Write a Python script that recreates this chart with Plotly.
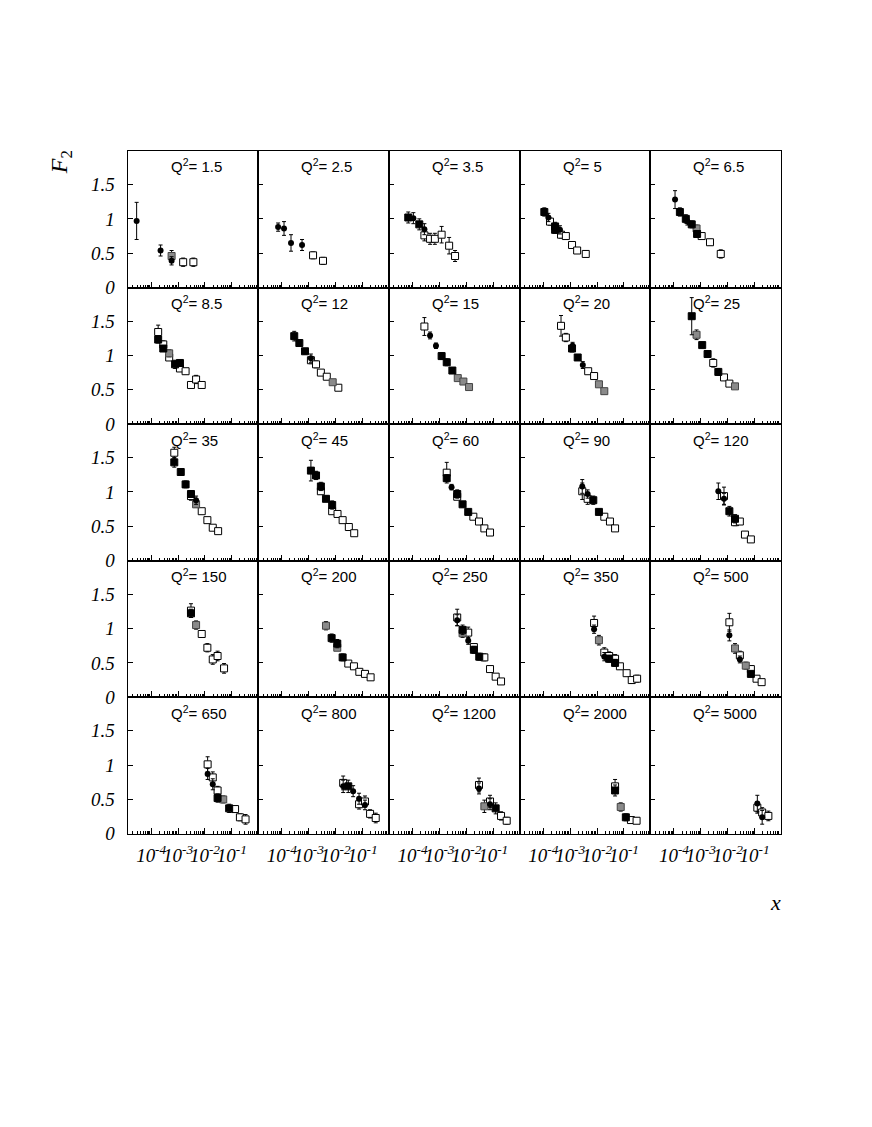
"""
F2 structure function vs x in 25 Q^2 bins (5x5 grid).
"""

import plotly.graph_objects as go
from plotly.subplots import make_subplots

# ---- data (log10 x, F2, error, marker kind per point) ----
# marker kinds: c = filled circle, o = open square, f = filled square, g = grey square
q2_labels = ["1.5", "2.5", "3.5", "5", "6.5",
             "8.5", "12", "15", "20", "25",
             "35", "45", "60", "90", "120",
             "150", "200", "250", "350", "500",
             "650", "800", "1200", "2000", "5000"]

lx_01 = [-4.54, -3.65, -3.24, -3.24, -2.81, -2.43]
f2_01 = [0.97, 0.54, 0.46, 0.39, 0.37, 0.37]
er_01 = [0.27, 0.08, 0.08, 0.06, 0.06, 0.06]
mk_01 = "ccgcoo"

lx_02 = [-4.14, -3.92, -3.66, -3.25, -2.84, -2.47]
f2_02 = [0.88, 0.86, 0.65, 0.62, 0.47, 0.39]
er_02 = [0.06, 0.10, 0.12, 0.08, 0.05, 0.05]
mk_02 = "ccccoo"

lx_03 = [-4.16, -3.97, -3.75, -3.56, -3.56, -3.35, -3.17, -2.92, -2.64, -2.42]
f2_03 = [1.02, 1.01, 0.92, 0.85, 0.76, 0.71, 0.71, 0.77, 0.61, 0.46]
er_03 = [0.08, 0.08, 0.08, 0.08, 0.08, 0.08, 0.08, 0.12, 0.12, 0.08]
mk_03 = "fcfcoooooo"

lx_04 = [-3.96, -3.81, -3.75, -3.56, -3.56, -3.38, -3.34, -3.16, -2.93, -2.74, -2.42]
f2_04 = [1.10, 1.02, 0.96, 0.89, 0.84, 0.84, 0.77, 0.75, 0.62, 0.54, 0.49]
er_04 = [0.06, 0.06, 0.05, 0.06, 0.05, 0.06, 0.05, 0.04, 0.04, 0.04, 0.05]
mk_04 = "fcoffcooooo"

lx_05 = [-3.96, -3.78, -3.56, -3.50, -3.34, -3.16, -3.14, -2.97, -2.66, -2.26]
f2_05 = [1.28, 1.10, 1.00, 0.96, 0.92, 0.86, 0.78, 0.75, 0.66, 0.49]
er_05 = [0.13, 0.06, 0.06, 0.05, 0.05, 0.05, 0.05, 0.04, 0.04, 0.06]
mk_05 = "cffcfgfooo"

lx_06 = [-3.74, -3.74, -3.55, -3.55, -3.33, -3.33, -3.11, -2.93, -2.93, -2.72, -2.52, -2.33, -2.12]
f2_06 = [1.34, 1.23, 1.16, 1.10, 1.03, 0.97, 0.87, 0.89, 0.81, 0.77, 0.57, 0.65, 0.57]
er_06 = [0.10, 0.05, 0.05, 0.04, 0.05, 0.04, 0.06, 0.05, 0.04, 0.04, 0.04, 0.06, 0.04]
mk_06 = "ofofgoffooooo"

lx_07 = [-3.54, -3.35, -3.14, -2.92, -2.92, -2.73, -2.55, -2.33, -2.11, -1.90]
f2_07 = [1.28, 1.18, 1.06, 0.96, 0.93, 0.87, 0.75, 0.69, 0.61, 0.53]
er_07 = [0.07, 0.04, 0.04, 0.06, 0.05, 0.05, 0.04, 0.03, 0.03, 0.03]
mk_07 = "fffcoooogo"

lx_08 = [-3.56, -3.35, -3.13, -2.92, -2.73, -2.52, -2.32, -2.11, -1.90]
f2_08 = [1.42, 1.29, 1.14, 0.99, 0.90, 0.78, 0.67, 0.62, 0.54]
er_08 = [0.13, 0.05, 0.04, 0.05, 0.05, 0.03, 0.03, 0.03, 0.03]
mk_08 = "occfffggg"

lx_09 = [-3.34, -3.16, -2.91, -2.93, -2.72, -2.53, -2.33, -2.11, -1.93, -1.73]
f2_09 = [1.43, 1.26, 1.14, 1.10, 0.97, 0.86, 0.77, 0.70, 0.58, 0.48]
er_09 = [0.15, 0.06, 0.05, 0.05, 0.04, 0.05, 0.03, 0.03, 0.03, 0.03]
mk_09 = "oocffcoogg"

lx_10 = [-3.34, -3.16, -2.95, -2.75, -2.54, -2.35, -2.14, -1.94, -1.73]
f2_10 = [1.57, 1.30, 1.15, 1.02, 0.89, 0.76, 0.68, 0.59, 0.55]
er_10 = [0.27, 0.07, 0.04, 0.04, 0.06, 0.05, 0.04, 0.03, 0.03]
mk_10 = "fgffofoog"

lx_11 = [-3.14, -3.14, -2.90, -2.72, -2.52, -2.52, -2.33, -2.33, -2.12, -1.91, -1.71, -1.51]
f2_11 = [1.57, 1.43, 1.29, 1.11, 0.94, 0.97, 0.88, 0.82, 0.72, 0.59, 0.48, 0.43]
er_11 = [0.08, 0.07, 0.05, 0.05, 0.06, 0.04, 0.06, 0.04, 0.03, 0.03, 0.02, 0.02]
mk_11 = "offfofcgoooo"

lx_12 = [-2.92, -2.73, -2.55, -2.55, -2.36, -2.13, -2.13, -1.93, -1.74, -1.51, -1.31]
f2_12 = [1.31, 1.24, 1.08, 1.01, 0.90, 0.81, 0.72, 0.68, 0.59, 0.49, 0.40]
er_12 = [0.15, 0.06, 0.06, 0.04, 0.04, 0.06, 0.03, 0.03, 0.03, 0.02, 0.02]
mk_12 = "fffoffooooo"

lx_13 = [-2.73, -2.73, -2.55, -2.34, -2.34, -2.14, -1.93, -1.74, -1.53, -1.33, -1.12]
f2_13 = [1.28, 1.20, 1.07, 0.97, 0.93, 0.82, 0.71, 0.64, 0.57, 0.47, 0.41]
er_13 = [0.15, 0.05, 0.04, 0.06, 0.04, 0.04, 0.04, 0.03, 0.03, 0.02, 0.02]
mk_13 = "ofcfoffoooo"

lx_14 = [-2.55, -2.55, -2.35, -2.35, -2.14, -1.93, -1.73, -1.52, -1.33]
f2_14 = [1.08, 1.01, 0.97, 0.90, 0.88, 0.71, 0.64, 0.57, 0.47]
er_14 = [0.10, 0.12, 0.06, 0.08, 0.06, 0.04, 0.03, 0.03, 0.02]
mk_14 = "cocoffooo"

lx_15 = [-2.35, -2.14, -2.14, -1.94, -1.73, -1.73, -1.55, -1.36, -1.14]
f2_15 = [1.01, 0.94, 0.90, 0.72, 0.61, 0.56, 0.57, 0.38, 0.31]
er_15 = [0.12, 0.13, 0.08, 0.07, 0.06, 0.05, 0.04, 0.03, 0.03]
mk_15 = "cocffoooo"

lx_16 = [-2.52, -2.52, -2.33, -2.12, -1.91, -1.71, -1.53, -1.29]
f2_16 = [1.26, 1.22, 1.05, 0.92, 0.72, 0.55, 0.60, 0.42]
er_16 = [0.10, 0.06, 0.06, 0.05, 0.06, 0.07, 0.07, 0.07]
mk_16 = "ofgooooo"

lx_17 = [-2.36, -2.15, -1.94, -1.94, -1.74, -1.53, -1.32, -1.12, -0.91, -0.70]
f2_17 = [1.04, 0.86, 0.78, 0.72, 0.58, 0.49, 0.45, 0.37, 0.34, 0.29]
er_17 = [0.06, 0.06, 0.06, 0.04, 0.05, 0.03, 0.03, 0.03, 0.03, 0.03]
mk_17 = "gffgfooooo"

lx_18 = [-2.34, -2.34, -2.14, -2.14, -1.93, -1.93, -1.72, -1.72, -1.52, -1.33, -1.12, -0.91, -0.71]
f2_18 = [1.16, 1.12, 0.98, 0.93, 0.94, 0.82, 0.73, 0.69, 0.59, 0.58, 0.41, 0.30, 0.23]
er_18 = [0.12, 0.08, 0.07, 0.06, 0.08, 0.05, 0.05, 0.05, 0.05, 0.05, 0.03, 0.03, 0.03]
mk_18 = "ocfgocoffoooo"

lx_19 = [-2.11, -2.11, -1.93, -1.73, -1.73, -1.55, -1.55, -1.33, -1.33, -1.15, -0.90, -0.71, -0.51]
f2_19 = [1.08, 0.99, 0.83, 0.65, 0.59, 0.60, 0.56, 0.56, 0.50, 0.45, 0.35, 0.25, 0.27]
er_19 = [0.10, 0.06, 0.07, 0.07, 0.06, 0.06, 0.05, 0.06, 0.05, 0.04, 0.04, 0.05, 0.05]
mk_19 = "ocgocofofoooo"

lx_20 = [-1.94, -1.94, -1.73, -1.55, -1.55, -1.33, -1.14, -1.14, -0.93, -0.74]
f2_20 = [1.09, 0.90, 0.71, 0.61, 0.55, 0.46, 0.41, 0.34, 0.27, 0.22]
er_20 = [0.13, 0.08, 0.07, 0.06, 0.05, 0.05, 0.05, 0.04, 0.03, 0.03]
mk_20 = "ocgocgofoo"

lx_21 = [-1.90, -1.90, -1.71, -1.71, -1.53, -1.53, -1.32, -1.10, -0.88, -0.70, -0.49]
f2_21 = [1.01, 0.87, 0.82, 0.72, 0.63, 0.52, 0.50, 0.37, 0.36, 0.24, 0.21]
er_21 = [0.11, 0.08, 0.08, 0.08, 0.06, 0.06, 0.05, 0.06, 0.04, 0.05, 0.07]
mk_21 = "ococofgfooo"

lx_22 = [-1.72, -1.72, -1.53, -1.35, -1.13, -1.13, -0.91, -0.91, -0.72, -0.51]
f2_22 = [0.74, 0.69, 0.69, 0.62, 0.51, 0.43, 0.47, 0.42, 0.29, 0.23]
er_22 = [0.10, 0.09, 0.09, 0.08, 0.08, 0.07, 0.08, 0.07, 0.06, 0.07]
mk_22 = "ocfccoocoo"

lx_23 = [-1.53, -1.53, -1.33, -1.12, -1.12, -0.91, -0.71, -0.50]
f2_23 = [0.71, 0.66, 0.40, 0.47, 0.43, 0.37, 0.26, 0.19]
er_23 = [0.10, 0.08, 0.09, 0.09, 0.08, 0.08, 0.06, 0.05]
mk_23 = "ocgocfoo"

lx_24 = [-1.33, -1.33, -1.12, -0.93, -0.74, -0.53]
f2_24 = [0.69, 0.63, 0.39, 0.24, 0.20, 0.19]
er_24 = [0.10, 0.08, 0.06, 0.05, 0.04, 0.04]
mk_24 = "ofgfoo"

lx_25 = [-0.90, -0.90, -0.72, -0.72, -0.49]
f2_25 = [0.44, 0.38, 0.31, 0.24, 0.26]
er_25 = [0.12, 0.08, 0.07, 0.10, 0.07]
mk_25 = "cooco"

panels = [
    (lx_01, f2_01, er_01, mk_01), (lx_02, f2_02, er_02, mk_02), (lx_03, f2_03, er_03, mk_03),
    (lx_04, f2_04, er_04, mk_04), (lx_05, f2_05, er_05, mk_05), (lx_06, f2_06, er_06, mk_06),
    (lx_07, f2_07, er_07, mk_07), (lx_08, f2_08, er_08, mk_08), (lx_09, f2_09, er_09, mk_09),
    (lx_10, f2_10, er_10, mk_10), (lx_11, f2_11, er_11, mk_11), (lx_12, f2_12, er_12, mk_12),
    (lx_13, f2_13, er_13, mk_13), (lx_14, f2_14, er_14, mk_14), (lx_15, f2_15, er_15, mk_15),
    (lx_16, f2_16, er_16, mk_16), (lx_17, f2_17, er_17, mk_17), (lx_18, f2_18, er_18, mk_18),
    (lx_19, f2_19, er_19, mk_19), (lx_20, f2_20, er_20, mk_20), (lx_21, f2_21, er_21, mk_21),
    (lx_22, f2_22, er_22, mk_22), (lx_23, f2_23, er_23, mk_23), (lx_24, f2_24, er_24, mk_24),
    (lx_25, f2_25, er_25, mk_25),
]

x_major = [1e-4, 1e-3, 1e-2, 1e-1]
x_major_text = ["10<sup>-4</sup>", "10<sup>-3</sup>", "10<sup>-2</sup>", "10<sup>-1</sup>"]
y_major = [0, 0.5, 1, 1.5]
y_major_text = ["0", "0.5", "1", "1.5"]

# ---- layout geometry ----
# the page body keeps its default 8px margin, so the figure sits 8px in;
# it is kept shorter than the window (everything below ~930px is blank)
PAD = 8
W, H = 872 - 2 * PAD, 1000
LEFT, COL_W = 127.5 - PAD, 130.7
TOP, ROW_H = 152.7 - PAD, 138.06


def px(x):
    return x / W


def py(y):
    return 1 - y / H


styles = {
    "o": dict(symbol="square", size=7, color="white", line=dict(color="black", width=1)),
    "g": dict(symbol="square", size=7, color="#8a8a8a", line=dict(color="#444444", width=1)),
    "f": dict(symbol="square", size=7, color="black", line=dict(color="black", width=1)),
    "c": dict(symbol="circle", size=6, color="black", line=dict(color="black", width=0)),
}

minor_vals = [k * 10.0 ** n for n in range(-5, 0) for k in range(2, 10)]

fig = make_subplots(rows=5, cols=5, horizontal_spacing=0, vertical_spacing=0)

for i, (lx, f2, er, mk) in enumerate(panels):
    r, c = i // 5, i % 5
    for kind in "ogfc":
        idx = [j for j, m in enumerate(mk) if m == kind]
        if not idx:
            continue
        fig.add_trace(
            go.Scatter(
                x=[10 ** lx[j] for j in idx],
                y=[f2[j] for j in idx],
                mode="markers",
                marker=styles[kind],
                error_y=dict(type="data", array=[er[j] for j in idx],
                             color="black", thickness=1, width=2),
                showlegend=False,
                hoverinfo="skip",
            ),
            row=r + 1,
            col=c + 1,
        )

    x0 = px(LEFT + c * COL_W)
    x1 = px(LEFT + (c + 1) * COL_W)
    y1 = py(TOP + r * ROW_H)
    y0 = py(TOP + (r + 1) * ROW_H)

    fig.update_xaxes(
        type="log",
        range=[-4.88, -0.02],
        domain=[x0, x1],
        showline=True, mirror=True, linecolor="black", linewidth=1,
        showgrid=False, zeroline=False,
        ticks="inside", ticklen=6, tickcolor="black",
        tickmode="array", tickvals=x_major, ticktext=x_major_text,
        showticklabels=(r == 4), tickangle=0,
        tickfont=dict(family="Liberation Serif", size=19, style="italic", color="black"),
        ticklabelstandoff=4,
        minor=dict(ticks="inside", ticklen=3, tickcolor="black",
                   tickmode="array", tickvals=minor_vals, showgrid=False),
        row=r + 1, col=c + 1,
    )
    fig.update_yaxes(
        range=[0, 1.985],
        domain=[y0, y1],
        showline=True, mirror=True, linecolor="black", linewidth=1,
        showgrid=False, zeroline=False,
        ticks="inside", ticklen=5, tickcolor="black",
        tickmode="array", tickvals=y_major, ticktext=y_major_text,
        showticklabels=(c == 0),
        tickfont=dict(family="Liberation Serif", size=19, style="italic", color="black"),
        ticklabelstandoff=8,
        row=r + 1, col=c + 1,
    )

    fig.add_annotation(
        x=px(LEFT + c * COL_W + 41),
        y=py(TOP + r * ROW_H + 15),
        xref="paper", yref="paper",
        xanchor="left", yanchor="middle",
        text=f"Q<sup>2</sup>= {q2_labels[i]}",
        showarrow=False,
        font=dict(family="Liberation Sans", size=15, color="black"),
    )

fig.add_annotation(
    x=px(61 - PAD), y=py(164 - PAD), xref="paper", yref="paper",
    xanchor="center", yanchor="middle",
    text="<i>F</i><sub>2</sub>", textangle=-90, showarrow=False,
    font=dict(family="Liberation Serif", size=24, color="black"),
)
fig.add_annotation(
    x=px(775 - PAD), y=py(912 - PAD), xref="paper", yref="paper",
    xanchor="center", yanchor="middle",
    text="<i>x</i>", showarrow=False,
    font=dict(family="Liberation Serif", size=22, color="black"),
)

fig.update_layout(
    width=W,
    height=H,
    margin=dict(l=0, r=0, t=0, b=0),
    paper_bgcolor="white",
    plot_bgcolor="white",
    showlegend=False,
)

fig.write_html("out.html")
